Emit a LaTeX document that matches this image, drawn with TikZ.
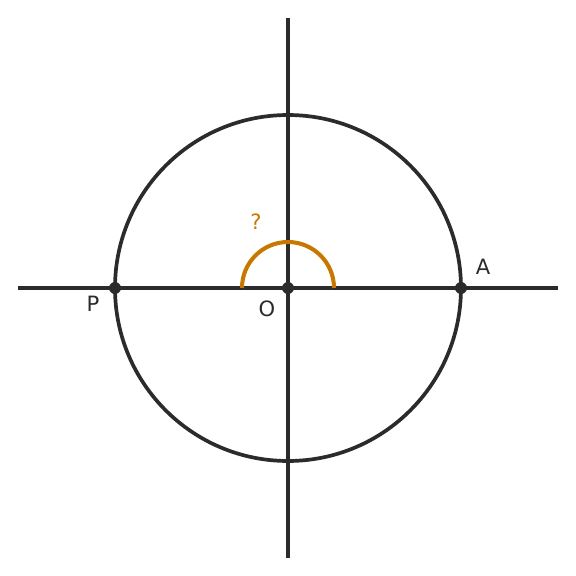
\documentclass[tikz,border=0pt]{standalone}
\usepackage{fontspec}
\setmainfont{DejaVu Sans}
\usepackage{xcolor}
\usetikzlibrary{calc,positioning}
\definecolor{axisgray}{HTML}{2B2B2B}
\definecolor{anglebrown}{HTML}{C87800}
\tikzset{
	axis line/.style={line width=2.1pt,axisgray},
	dot/.style={circle,fill=axisgray,inner sep=0pt,minimum size=2.4mm},
	lbl/.style={text=axisgray,font=\fontsize{12}{14}\selectfont}
}
\begin{document}
\begin{tikzpicture}[x=0.02cm,y=0.02cm]
	\useasboundingbox (-288,-288) rectangle (288,288);
	\coordinate (x left) at (-270,0);
	\coordinate (x right) at (270,0);
	\coordinate (y bottom) at (0,-270);
	\coordinate (y top) at (0,270);
	\draw[axis line] (x left) -- (x right);
	\draw[axis line] (y bottom) -- (y top);
	\draw[axis line] (0,0) circle (173);
	\draw[line width=2.3pt,anglebrown] (46,0) arc (0:180:46);
	\node[dot] (O) at (0,0) {};
	\node[dot] (P) at (-173,0) {};
	\node[dot] (A) at (173,0) {};
	\node[lbl] at (-21,-21) {O};
	\node[lbl] at (-195,-16) {P};
	\node[lbl] at (195,21) {A};
	\node[lbl,text=anglebrown] at (-32,66) {?};
\end{tikzpicture}
\end{document}
